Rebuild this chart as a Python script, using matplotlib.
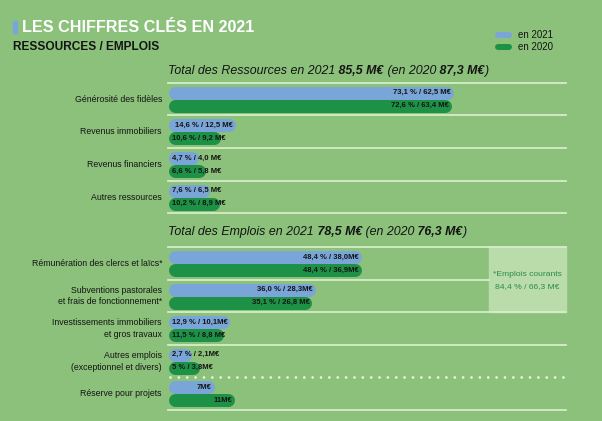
import matplotlib
matplotlib.use("Agg")
import matplotlib.pyplot as plt
from matplotlib.patches import Rectangle

plt.rcParams['font.family'] = ['Liberation Sans', 'DejaVu Sans']

# ---- data ----
res_categories = ["Générosité des fidèles", "Revenus immobiliers",
                  "Revenus financiers", "Autres ressources"]
res_pct_2021 = [73.1, 14.6, 4.7, 7.6]
res_pct_2020 = [72.6, 10.6, 6.6, 10.2]
res_labels_2021 = ["73,1 % / 62,5 M€", "14,6 % / 12,5 M€", "4,7 % / 4,0 M€", "7,6 % / 6,5 M€"]
res_labels_2020 = ["72,6 % / 63,4 M€", "10,6 % / 9,2 M€", "6,6 % / 5,8 M€", "10,2 % / 8,9 M€"]

emp_categories = ["Rémunération des clercs et laïcs*",
                  "Subventions pastorales\net frais de fonctionnement*",
                  "Investissements immobiliers\net gros travaux",
                  "Autres emplois\n(exceptionnel et divers)",
                  "Réserve pour projets"]
emp_pct_2021 = [48.4, 36.0, 12.9, 2.7]
emp_pct_2020 = [48.4, 35.1, 11.5, 5.0]
emp_labels_2021 = ["48,4 % / 38,0M€", "36,0 % / 28,3M€", "12,9 % / 10,1M€", "2,7 % / 2,1M€", "7M€"]
emp_labels_2020 = ["48,4 % / 36,9M€", "35,1 % / 26,8 M€", "11,5 % / 8,8 M€", "5 % / 3,8M€", "11M€"]
reserve_meur_2021 = 7.0
reserve_meur_2020 = 11.0

total_res_2021, total_res_2020 = 85.5, 87.3
total_emp_2021, total_emp_2020 = 78.5, 76.3
courants_label = "84,4 % / 66,3 M€"

# reserve shown on the same share scale as the other uses
emp_pct_2021 = emp_pct_2021 + [reserve_meur_2021 / total_emp_2021 * 100]
emp_pct_2020 = emp_pct_2020 + [reserve_meur_2020 / total_emp_2020 * 100]

# ---- style ----
BG = '#8cc17b'
BLUE = '#7aa5d8'
GREEN = '#1d9146'
LINE = '#d6edca'
BOX = '#b9dcaa'
DARK = '#141414'

W, H = 602, 421
fig = plt.figure(figsize=(W / 100, H / 100), dpi=100, facecolor=BG)
ax = fig.add_axes([0, 0, 1, 1])
ax.set_xlim(0, W)
ax.set_ylim(H, 0)
ax.axis('off')

# bar area, x in percent
BAR_L, BAR_R = 168, 566
PX_PER_PCT = 3.73
BAR_H = 13.0            # px
CAP = BAR_H / 2
zero_px = BAR_L + CAP
axb = fig.add_axes([BAR_L / W, 0, (BAR_R - BAR_L) / W, 1])
axb.set_xlim(-CAP / PX_PER_PCT, (BAR_R - zero_px) / PX_PER_PCT)
axb.set_ylim(H, 0)
axb.axis('off')
axb.patch.set_alpha(0)

lw_pt = BAR_H * 0.72
renderer = fig.canvas.get_renderer()
ROW_H = 32.6
LBL = dict(fontsize=5.5, weight='bold', color=DARK, va='center', zorder=4)


def bar_with_label(y, pct, label, color):
    axb.plot([0, pct], [y, y], color=color, lw=lw_pt, solid_capstyle='round', zorder=3)
    t = axb.annotate(label, xy=(pct, y), xytext=(-1.8 + CAP * 0.72, 0), textcoords='offset points',
                     ha='right', **LBL)
    w = t.get_window_extent(renderer).width
    if w + 9 > pct * PX_PER_PCT + BAR_H:
        t.remove()
        axb.annotate(label, xy=(0, y), xytext=(-CAP * 0.72 + 3.0, 0), textcoords='offset points',
                     ha='left', **LBL)


def hline(y, x1=BAR_L, x2=BAR_R, dotted=False):
    if dotted:
        ax.plot([x1 + 2, x2], [y, y], color='#e8f5e0', lw=2.0, ls=(0, (0.01, 3.0)),
                dash_capstyle='round', zorder=2)
    else:
        ax.plot([x1, x2], [y, y], color=LINE, lw=1.3, zorder=2)


def rich_title(x, y, parts):
    prev = ax.text(x, y, parts[0][0], fontsize=8.9, style='italic', weight=parts[0][1],
                   color=DARK, ha='left', va='center')
    for s, wt in parts[1:]:
        prev = ax.annotate(s, xy=(1, 0), xycoords=prev, xytext=(0, 0), textcoords='offset points',
                           fontsize=8.9, style='italic', weight=wt, color=DARK,
                           ha='left', va='bottom')


def fmt(v):
    return f"{v:.1f}".replace('.', ',')


# ---- header ----
ax.add_patch(Rectangle((13, 21), 4, 12, color=BLUE, zorder=3))
ax.text(22, 27.5, "LES CHIFFRES CLÉS EN 2021", fontsize=11.6, weight='bold', color='white',
        ha='left', va='center')
ax.text(13, 47, "RESSOURCES / EMPLOIS", fontsize=8.6, weight='bold', color=DARK,
        ha='left', va='center')

for y, c, s in [(35, BLUE, "en 2021"), (47, GREEN, "en 2020")]:
    ax.plot([498, 509], [y, y], color=c, lw=4.3, solid_capstyle='round')
    ax.text(518, y, s, fontsize=7, color=DARK, ha='left', va='center')

# ---- ressources ----
rich_title(168, 71, [("Total des Ressources en 2021", 'normal'), (f" {fmt(total_res_2021)} M€", 'bold'),
                     (" (en 2020", 'normal'), (f" {fmt(total_res_2020)} M€", 'bold'), (")", 'normal')])
top = 82.7
hline(top)
for i, cat in enumerate(res_categories):
    rt = top + i * ROW_H
    ax.text(162, rt + 16.5, cat, fontsize=6.3, color=DARK, ha='right', va='center')
    bar_with_label(rt + 10, res_pct_2021[i], res_labels_2021[i], BLUE)
    bar_with_label(rt + 23, res_pct_2020[i], res_labels_2020[i], GREEN)
    hline(rt + ROW_H)

# ---- emplois ----
rich_title(168, 232, [("Total des Emplois en 2021", 'normal'), (f" {fmt(total_emp_2021)} M€", 'bold'),
                      (" (en 2020", 'normal'), (f" {fmt(total_emp_2020)} M€", 'bold'), (")", 'normal')])
top = 247
box_x = 489
ax.add_patch(Rectangle((box_x, top), BAR_R - box_x, 2 * ROW_H, color=BOX, zorder=1))
ax.text((box_x + BAR_R) / 2, top + 28, "*Emplois courants", fontsize=6.1, color='#2c8a4c',
        ha='center', va='center')
ax.text((box_x + BAR_R) / 2, top + 39.5, courants_label, fontsize=6.1, color='#2c8a4c',
        ha='center', va='center')
hline(top)
for i, cat in enumerate(emp_categories):
    rt = top + i * ROW_H
    ax.text(162, rt + 16.5, cat, fontsize=6.3, color=DARK, ha='right', va='center',
            linespacing=1.35)
    bar_with_label(rt + 10, emp_pct_2021[i], emp_labels_2021[i], BLUE)
    bar_with_label(rt + 23, emp_pct_2020[i], emp_labels_2020[i], GREEN)
    yb = rt + ROW_H
    if i == 0:
        hline(yb, x2=box_x)
    elif i == 3:
        hline(yb, dotted=True)
    else:
        hline(yb)

fig.savefig("out.png", dpi=100, facecolor=BG)
